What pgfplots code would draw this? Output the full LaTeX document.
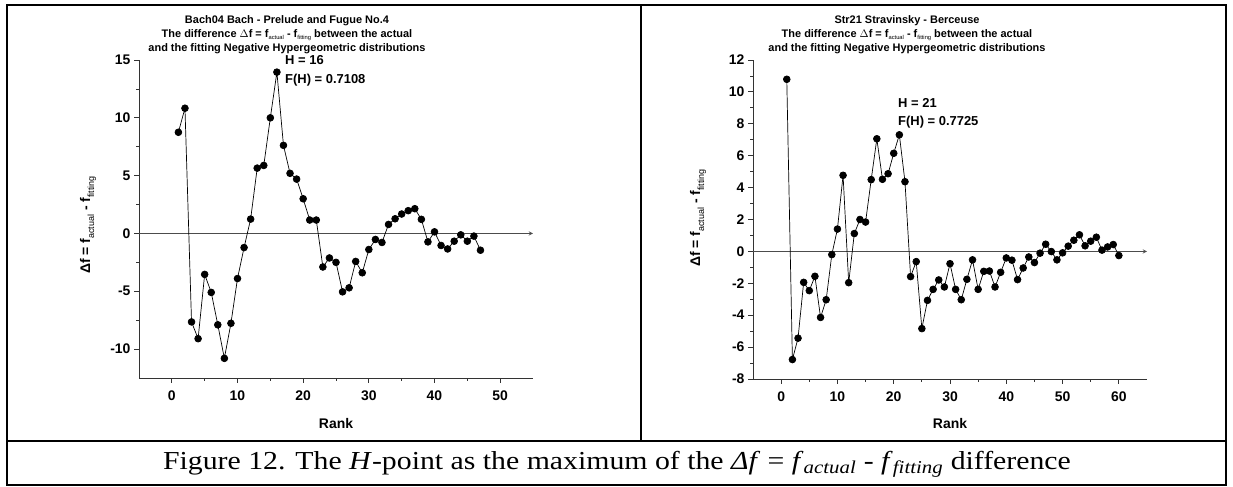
\documentclass[border=0pt]{standalone}
\usepackage{pgfplots}
\pgfplotsset{compat=1.18}
\usepackage{fontspec}
\setmainfont{Liberation Sans}
\newfontfamily\timesfont{Liberation Serif}

\newcommand{\sub}[1]{\raisebox{-0.45ex}{\fontsize{5.8}{6}\selectfont\mdseries #1}}
\newcommand{\lsub}[1]{\raisebox{-0.55ex}{\fontsize{9}{9}\selectfont\mdseries #1}}

\pgfplotsset{
  dfstyle/.style={
    scale only axis, width=394bp, height=318bp,
    axis x line*=bottom, axis y line*=left,
    axis line style={-, line width=0.9pt, black!80},
    tick align=outside, major tick length=5bp, minor tick length=3bp,
    tick style={line width=0.8pt, black!80},
    enlargelimits=false, clip=false,
    minor x tick num=1, minor y tick num=1,
    /pgf/number format/assume math mode=true,
    tick label style={font=\bfseries\fontsize{14}{14}\selectfont},
    xticklabel style={yshift=-4bp},
  },
  dfline/.style={black, line width=0.7pt, mark=*, mark size=3.4bp, mark options={fill=black}},
}

\begin{document}
\begin{tikzpicture}
\useasboundingbox (0,0) rectangle (1233bp,487bp);

% left panel
\begin{axis}[dfstyle, at={(139bp,109bp)}, anchor=south west,
  xmin=-5, xmax=55, ymin=-12.5, ymax=15,
  xtick={0,10,20,30,40,50}, ytick={-10,-5,0,5,10,15}]
\draw[black!70, line width=0.9pt, -stealth] (axis cs:-5,0) -- (axis cs:55,0);
\addplot[dfline] coordinates {
(1,8.75)(2,10.83)(3,-7.65)(4,-9.1)(5,-3.54)(6,-5.1)(7,-7.9)(8,-10.8)(9,-7.77)(10,-3.9)
(11,-1.22)(12,1.24)(13,5.65)(14,5.88)(15,10.0)(16,13.95)(17,7.62)(18,5.2)(19,4.7)(20,3.0)
(21,1.16)(22,1.16)(23,-2.9)(24,-2.12)(25,-2.5)(26,-5.05)(27,-4.7)(28,-2.42)(29,-3.4)(30,-1.39)
(31,-0.52)(32,-0.78)(33,0.78)(34,1.27)(35,1.68)(36,1.97)(37,2.14)(38,1.22)(39,-0.73)(40,0.14)
(41,-1.04)(42,-1.34)(43,-0.67)(44,-0.12)(45,-0.67)(46,-0.23)(47,-1.45)};
\end{axis}

% right panel
\begin{axis}[dfstyle, at={(753bp,108bp)}, anchor=south west, height=319bp,
  xmin=-5, xmax=65, ymin=-8, ymax=12,
  xtick={0,10,20,30,40,50,60}, ytick={-8,-6,-4,-2,0,2,4,6,8,10,12}]
\draw[black!70, line width=0.9pt, -stealth] (axis cs:-5,0) -- (axis cs:65,0);
\addplot[dfline] coordinates {
(1,10.79)(2,-6.78)(3,-5.44)(4,-1.94)(5,-2.46)(6,-1.56)(7,-4.14)(8,-3.03)(9,-0.2)(10,1.4)
(11,4.77)(12,-1.96)(13,1.12)(14,2.0)(15,1.84)(16,4.5)(17,7.06)(18,4.52)(19,4.87)(20,6.15)
(21,7.31)(22,4.37)(23,-1.58)(24,-0.64)(25,-4.84)(26,-3.07)(27,-2.38)(28,-1.79)(29,-2.23)(30,-0.77)
(31,-2.38)(32,-3.03)(33,-1.75)(34,-0.53)(35,-2.38)(36,-1.25)(37,-1.23)(38,-2.23)(39,-1.31)(40,-0.41)
(41,-0.55)(42,-1.77)(43,-1.04)(44,-0.35)(45,-0.7)(46,-0.11)(47,0.45)(48,-0.01)(49,-0.53)(50,-0.09)
(51,0.33)(52,0.7)(53,1.04)(54,0.35)(55,0.64)(56,0.89)(57,0.08)(58,0.28)(59,0.43)(60,-0.26)};
\end{axis}

\begin{scope}[x=1bp,y=1bp]
% frames
\draw[line width=1.8bp] (7,2) rectangle (1226,482);
\draw[line width=1.2bp] (7,46) -- (1226,46);
\draw[line width=1.2bp] (641,46) -- (641,482);

% titles
\begin{scope}[every node/.style={font=\bfseries\fontsize{11}{12}\selectfont, inner sep=0pt}]
\node at (287,466) {Bach04 Bach - Prelude and Fugue No.4};
\node at (287,452) {The difference {\mdseries$\Delta$}f = f\sub{actual} - f\sub{fitting} between the actual};
\node at (287,438) {and the fitting Negative Hypergeometric distributions};
\node at (907,466) {Str21 Stravinsky - Berceuse};
\node at (907,452) {The difference {\mdseries$\Delta$}f = f\sub{actual} - f\sub{fitting} between the actual};
\node at (907,438) {and the fitting Negative Hypergeometric distributions};
\end{scope}

% annotations
\begin{scope}[every node/.style={font=\bfseries\fontsize{13}{13}\selectfont, anchor=west, inner sep=0pt}]
\node at (285,427) {H = 16};
\node at (285,407) {F(H) = 0.7108};
\node at (898,384) {H = 21};
\node at (898,365) {F(H) = 0.7725};
\end{scope}

% axis labels
\begin{scope}[every node/.style={font=\bfseries\fontsize{14}{14}\selectfont, inner sep=0pt}]
\node at (336,63) {Rank};
\node at (950,63) {Rank};
\node[rotate=90] at (88,262) {Δf = f\lsub{actual} - f\lsub{fitting}};
\node[rotate=90] at (698,269) {Δf = f\lsub{actual} - f\lsub{fitting}};
\end{scope}

% caption
\node[font=\timesfont\fontsize{26}{27}\selectfont, inner sep=0pt] at (617,23)
  {\scalebox{1.15}[1]{Figure 12. The \textit{H}-point as the maximum of the \textit{Δf} = \textit{f}\textsubscript{\textit{actual}} - \textit{f}\textsubscript{\textit{fitting}} difference}};
\end{scope}
\end{tikzpicture}
\end{document}
